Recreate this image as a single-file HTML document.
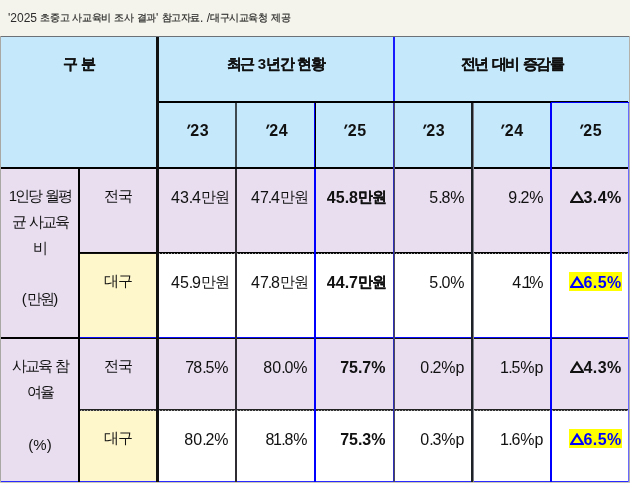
<!DOCTYPE html>
<html><head><meta charset="utf-8">
<style>
*{margin:0;padding:0;box-sizing:border-box}
html,body{width:630px;height:483px;overflow:hidden;background:#f5f4ec;font-family:"Liberation Sans",sans-serif;color:#111}
#w{position:absolute;left:0;top:0;width:630px;height:483px;will-change:transform}
.cap{position:absolute;left:8px;top:10px;font-size:12px;line-height:16px;color:#2b2b2b;white-space:nowrap}
.cap .k{letter-spacing:-0.4px;font-size:10px;position:relative;top:-1px;-webkit-text-stroke:0.2px #2b2b2b}
.c,.ln{position:absolute}
.t{position:absolute;white-space:nowrap;line-height:20px}
.b{font-weight:bold}
.o1c{letter-spacing:-2.5px}
.o1{margin-left:-1.5px;letter-spacing:-2.5px}
.o1b{margin-left:-1.5px;letter-spacing:-0.8px}
.od{letter-spacing:-1.2px}
.o7{letter-spacing:-1px}
.sp{letter-spacing:-0.5px}
.ap{display:inline-block;transform:skewX(-22deg) scaleY(1.05);margin-right:1px;margin-left:0px}
.d.b .k{-webkit-text-stroke:0.15px #111}
.h{font-size:15px;font-weight:bold;text-align:center}
.h .k{letter-spacing:-1.5px;-webkit-text-stroke:0.15px #111}
.yr{font-size:16px;font-weight:bold;text-align:center;letter-spacing:0.6px}
.d{font-size:16px}
.d .k{font-size:15px;letter-spacing:-1.0px;position:relative;top:-1px}
.g{font-size:15px;text-align:center}
.g .k{letter-spacing:-1px}
.c1{font-size:15px;text-align:center;line-height:25.8px}
.c1 .k{letter-spacing:-1.8px}
.hl{color:#0000ff;background:#ffff00;padding:2px 0 0 1px;letter-spacing:0.4px}
.tri{display:inline-block;vertical-align:baseline;margin-right:0px}
</style></head><body><div id="w">
<div class="cap">'2025 <span class="k">초중고</span> <span class="k">사교육비</span> <span class="k">조사</span> <span class="k">결과</span>' <span class="k">참고자료</span>. /<span class="k">대구시교육청</span> <span class="k">제공</span></div>

<div class="c" style="left:0;top:36px;width:630px;height:132px;background:#c5e8fa"></div>
<div class="c" style="left:0;top:168px;width:630px;height:314px;background:#e9def0"></div>
<div class="c" style="left:79px;top:253px;width:78px;height:85px;background:#fff7cc"></div>
<div class="c" style="left:157px;top:253px;width:473px;height:85px;background:#fff"></div>
<div class="c" style="left:79px;top:410px;width:78px;height:72px;background:#fff7cc"></div>
<div class="c" style="left:157px;top:410px;width:473px;height:72px;background:#fff"></div>

<div class="ln" style="left:0px;top:36px;width:630px;height:1px;background:#6b7177"></div>
<div class="ln" style="left:0px;top:36px;width:1px;height:447px;background:#aaa8a5"></div>
<div class="ln" style="left:629px;top:36px;width:1px;height:447px;background:#b4b1aa"></div>
<div class="ln" style="left:628px;top:103px;width:1px;height:379px;background:#6a6aff"></div>
<div class="ln" style="left:157px;top:101px;width:471px;height:1px;background:#000"></div>
<div class="ln" style="left:157px;top:102px;width:394px;height:1px;background:#000"></div>
<div class="ln" style="left:551px;top:102px;width:78px;height:1px;background:#0000ff"></div>
<div class="ln" style="left:1px;top:167px;width:627px;height:2px;background:#000"></div>
<div class="ln" style="left:79px;top:252px;width:549px;height:1px;background:#000"></div>
<div class="ln" style="left:79px;top:253px;width:78px;height:1px;background:#111"></div>
<div class="ln" style="left:157px;top:253px;width:471px;height:1px;background:repeating-linear-gradient(90deg,#111 0 2px,#999 2px 3px)"></div>
<div class="ln" style="left:1px;top:337px;width:78px;height:2px;background:#000"></div>
<div class="ln" style="left:79px;top:337px;width:549px;height:1px;background:#0a0aff"></div>
<div class="ln" style="left:79px;top:338px;width:549px;height:1px;background:#111"></div>
<div class="ln" style="left:79px;top:409px;width:549px;height:1px;background:#222"></div>
<div class="ln" style="left:79px;top:410px;width:549px;height:1px;background:repeating-linear-gradient(90deg,#333 0 2px,#aaa 2px 3px)"></div>
<div class="ln" style="left:1px;top:481px;width:627px;height:1px;background:#2a2aff"></div>
<div class="ln" style="left:0px;top:482px;width:630px;height:1px;background:#c9c7bb"></div>
<div class="ln" style="left:78px;top:168px;width:2px;height:314px;background:#000"></div>
<div class="ln" style="left:156px;top:37px;width:3px;height:445px;background:#111"></div>
<div class="ln" style="left:235px;top:103px;width:2px;height:64px;background:#3f4a50"></div>
<div class="ln" style="left:235px;top:169px;width:2px;height:313px;background:#2f2d33"></div>
<div class="ln" style="left:314px;top:103px;width:1px;height:64px;background:#0000ff"></div>
<div class="ln" style="left:315px;top:103px;width:1px;height:64px;background:#000"></div>
<div class="ln" style="left:314px;top:169px;width:2px;height:313px;background:#0000ff"></div>
<div class="ln" style="left:393px;top:37px;width:2px;height:64px;background:#1a1aff"></div>
<div class="ln" style="left:393px;top:103px;width:1px;height:379px;background:#2e2eb8"></div>
<div class="ln" style="left:394px;top:103px;width:1px;height:379px;background:#4a4a5a"></div>
<div class="ln" style="left:471px;top:103px;width:2px;height:379px;background:#1d2226"></div>
<div class="ln" style="left:473px;top:103px;width:1px;height:379px;background:#80808a"></div>
<div class="ln" style="left:550px;top:103px;width:2px;height:379px;background:#0000ff"></div>

<div class="t h" style="left:0;width:157px;top:54px"><span class="k">구</span> <span class="k">분</span></div>
<div class="t h" style="left:157px;width:237px;top:54px"><span class="k">최근</span> 3<span class="k">년간</span> <span class="k">현황</span></div>
<div class="t h" style="left:394px;width:236px;top:54px"><span class="k">전년</span> <span class="k">대비</span> <span class="k">증감률</span></div>
<div class="t yr" style="left:158px;width:78px;top:121px"><span class=ap>'</span>23</div>
<div class="t yr" style="left:237px;width:78px;top:121px"><span class=ap>'</span>24</div>
<div class="t yr" style="left:315px;width:79px;top:121px"><span class=ap>'</span>25</div>
<div class="t yr" style="left:394px;width:78px;top:121px"><span class=ap>'</span>23</div>
<div class="t yr" style="left:472px;width:79px;top:121px"><span class=ap>'</span>24</div>
<div class="t yr" style="left:551px;width:78px;top:121px"><span class=ap>'</span>25</div>

<div class="t c1" style="left:1px;width:78px;top:183px"><span class=o1c>1</span><span class="k">인당</span><span class=sp> </span><span class="k">월평</span><br><span class="k">균</span><span class=sp> </span><span class="k">사교육</span><br><span class="k">비</span><br><br>(<span class="k">만원</span>)</div>
<div class="t c1" style="left:1px;width:78px;top:353px"><span class="k">사교육</span><span class=sp> </span><span class="k">참</span><br><span class="k">여율</span><br><br><span style="position:relative;top:2px">(%)</span></div>
<div class="t g" style="left:79px;width:78px;top:186px"><span class="k">전국</span></div>
<div class="t g" style="left:79px;width:78px;top:271px"><span class="k">대구</span></div>
<div class="t g" style="left:79px;width:78px;top:356px"><span class="k">전국</span></div>
<div class="t g" style="left:79px;width:78px;top:428px"><span class="k">대구</span></div>
<div class="t d" style="right:401px;top:188px">43<span class=od>.</span>4<span class="k">만원</span></div>
<div class="t d" style="right:322px;top:188px">4<span class=o7>7</span><span class=od>.</span>4<span class="k">만원</span></div>
<div class="t d b" style="right:244px;top:188px">45.8<span class="k">만원</span></div>
<div class="t d" style="right:165.5px;top:188px">5<span class=od>.</span>8%</div>
<div class="t d" style="right:86.5px;top:188px">9<span class=od>.</span>2%</div>
<div class="t d b" style="right:8.4px;top:188px"><span style="letter-spacing:0.4px"><svg class="tri" width="14" height="12" viewBox="0 0 14 12"><path d="M7 1.6 L12.9 11 L1.1 11 Z" fill="none" stroke="currentColor" stroke-width="2.1" stroke-linejoin="miter"/></svg>3.4%</span></div>
<div class="t d" style="right:401px;top:273px">45<span class=od>.</span>9<span class="k">만원</span></div>
<div class="t d" style="right:322px;top:273px">4<span class=o7>7</span><span class=od>.</span>8<span class="k">만원</span></div>
<div class="t d b" style="right:244px;top:273px">44.7<span class="k">만원</span></div>
<div class="t d" style="right:165.5px;top:273px">5<span class=od>.</span>0%</div>
<div class="t d" style="right:86.5px;top:273px">4<span class=od>.</span><span class=o1>1</span>%</div>
<div class="t d b" style="right:8.4px;top:273px"><span class="hl"><svg class="tri" width="14" height="12" viewBox="0 0 14 12"><path d="M7 1.6 L12.9 11 L1.1 11 Z" fill="none" stroke="currentColor" stroke-width="2.1" stroke-linejoin="miter"/></svg>6.5%</span></div>
<div class="t d" style="right:401.5px;top:358px"><span class=o7>7</span>8<span class=od>.</span>5%</div>
<div class="t d" style="right:322.5px;top:358px">80<span class=od>.</span>0%</div>
<div class="t d b" style="right:244.5px;top:358px">75.7%</div>
<div class="t d" style="right:165.5px;top:358px">0<span class=od>.</span>2%p</div>
<div class="t d" style="right:86.5px;top:358px"><span class=o1b>1</span><span class=od>.</span>5%p</div>
<div class="t d b" style="right:8.4px;top:358px"><span style="letter-spacing:0.4px"><svg class="tri" width="14" height="12" viewBox="0 0 14 12"><path d="M7 1.6 L12.9 11 L1.1 11 Z" fill="none" stroke="currentColor" stroke-width="2.1" stroke-linejoin="miter"/></svg>4.3%</span></div>
<div class="t d" style="right:401.5px;top:430px">80<span class=od>.</span>2%</div>
<div class="t d" style="right:322.5px;top:430px">8<span class=o1b>1</span><span class=od>.</span>8%</div>
<div class="t d b" style="right:244.5px;top:430px">75.3%</div>
<div class="t d" style="right:165.5px;top:430px">0<span class=od>.</span>3%p</div>
<div class="t d" style="right:86.5px;top:430px"><span class=o1b>1</span><span class=od>.</span>6%p</div>
<div class="t d b" style="right:8.4px;top:430px"><span class="hl"><svg class="tri" width="14" height="12" viewBox="0 0 14 12"><path d="M7 1.6 L12.9 11 L1.1 11 Z" fill="none" stroke="currentColor" stroke-width="2.1" stroke-linejoin="miter"/></svg>6.5%</span></div>
</div></body></html>
